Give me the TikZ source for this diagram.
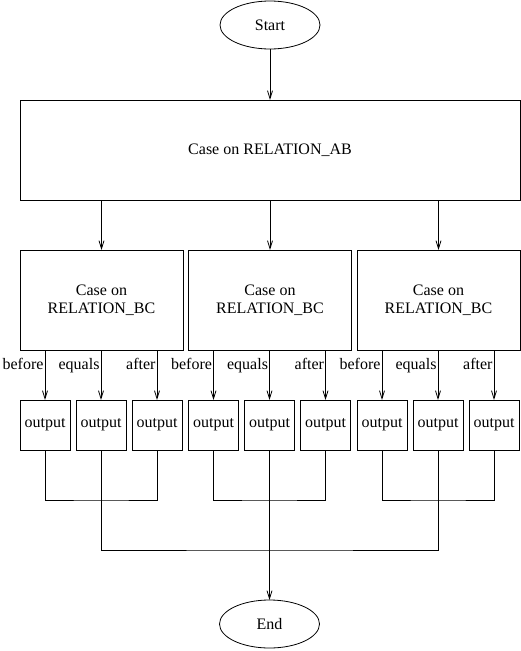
\documentclass[tikz,border=0pt]{standalone}
\usepackage{fontspec}
\setmainfont{Liberation Serif}
\usepackage{tikz}
\usetikzlibrary{shapes,
                arrows.meta,
                positioning}
\tikzset{terminal/.style=
   {ellipse,
    draw,
    inner sep=0pt,
    minimum width=100pt,
    minimum height=48pt}}
\tikzset{casebox/.style =
   {rectangle,
    draw,
    text centered,
    align=center,
    minimum width=163pt,
    minimum height=100pt}}
\tikzset{outbox/.style =
   {rectangle,
    draw,
    text centered,
    inner sep=0pt,
    minimum width=50pt,
    minimum height=50pt}}
\tikzset{caselabel/.style =
   {anchor=base east,
    pos=0.38,
    inner sep=1.5pt}}
\tikzset{arrow/.style = {draw, -{Straight Barb[length=8pt,width=5pt]}}}

\begin{document}
\begin{tikzpicture}[line width=0.8pt,
                    outer sep=0pt,
                    font=\fontsize{16}{18}\selectfont]
    \useasboundingbox (0pt,0pt) rectangle (521pt,-651pt);

    \node [terminal] (start) at (270pt,-25pt) {Start};

    \node [casebox,
           minimum width=500pt,
           below = 51pt of start] (caseAB) {Case on RELATION\_AB};

    % second level
    \node [casebox,
           below = 50pt of caseAB.south west,
           anchor=north west] (caseBC1) {Case on\\RELATION\_BC};
    \node [casebox,
           right = 5.5pt of caseBC1] (caseBC2) {Case on\\RELATION\_BC};
    \node [casebox,
           right = 5.5pt of caseBC2] (caseBC3) {Case on\\RELATION\_BC};

    % outputs
    \node [outbox,
           below = 50pt of caseBC1.south west,
           anchor=north west] (out1a) {output};
    \node [outbox, right = 6pt of out1a] (out1b) {output};
    \node [outbox, right = 6pt of out1b] (out1c) {output};

    \node [outbox,
           below = 50pt of caseBC2.south west,
           anchor=north west] (out2a) {output};
    \node [outbox, right = 6pt of out2a] (out2b) {output};
    \node [outbox, right = 6pt of out2b] (out2c) {output};

    \node [outbox,
           below = 50pt of caseBC3.south west,
           anchor=north west] (out3a) {output};
    \node [outbox, right = 6pt of out3a] (out3b) {output};
    \node [outbox, right = 6pt of out3b] (out3c) {output};

    \coordinate [below = 50pt of out1b.south] (join1);
    \coordinate [below = 50pt of out2b.south] (join2);
    \coordinate [below = 50pt of out3b.south] (join3);
    \coordinate [below = 50pt of join2] (joinAll);

    \node [terminal, below = 50pt of joinAll] (end) {End};

    \draw [arrow] (start) -- (caseAB);
    \draw [arrow] (caseAB.south -| caseBC1) -- (caseBC1);
    \draw [arrow] (caseAB.south -| caseBC2) -- (caseBC2);
    \draw [arrow] (caseAB.south -| caseBC3) -- (caseBC3);

    \draw [arrow] (caseBC1.south -| out1a) -- node[caselabel] {before} (out1a);
    \draw [arrow] (caseBC1.south -| out1b) -- node[caselabel] {equals} (out1b);
    \draw [arrow] (caseBC1.south -| out1c) -- node[caselabel] {after} (out1c);
    \draw [arrow] (caseBC2.south -| out2a) -- node[caselabel] {before} (out2a);
    \draw [arrow] (caseBC2.south -| out2b) -- node[caselabel] {equals} (out2b);
    \draw [arrow] (caseBC2.south -| out2c) -- node[caselabel] {after} (out2c);
    \draw [arrow] (caseBC3.south -| out3a) -- node[caselabel] {before} (out3a);
    \draw [arrow] (caseBC3.south -| out3b) -- node[caselabel] {equals} (out3b);
    \draw [arrow] (caseBC3.south -| out3c) -- node[caselabel] {after} (out3c);

    % joining the outputs
    \draw (out1a.south) |- (join1) -| (out1c.south);
    \draw (out1b.south) -- (join1);
    \draw (out2a.south) |- (join2) -| (out2c.south);
    \draw (out2b.south) -- (join2);
    \draw (out3a.south) |- (join3) -| (out3c.south);
    \draw (out3b.south) -- (join3);

    \draw (join1) |- (joinAll) -| (join3);
    \draw (join2) -- (joinAll);
    \draw [arrow] (joinAll) -- (end);

\end{tikzpicture}
\end{document}
